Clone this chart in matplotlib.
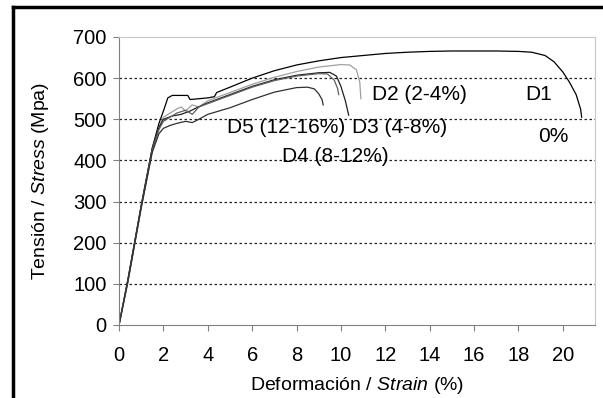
import matplotlib.pyplot as plt
from matplotlib.lines import Line2D

plt.rcParams['font.family'] = ['Liberation Sans', 'DejaVu Sans']
plt.rcParams['mathtext.fontset'] = 'custom'
plt.rcParams['mathtext.it'] = 'Liberation Sans:italic'
plt.rcParams['mathtext.rm'] = 'Liberation Sans'

# strain (%) / stress (MPa)
d1_strain = [0, 0.4, 1.0, 1.5, 1.8, 2.0, 2.2, 2.4, 2.8, 3.1, 3.2, 3.6, 4.0, 4.3, 4.4,
             5.0, 6.0, 7.0, 8.0, 9.0, 10.0, 11.0, 12.0, 13.0, 14.0, 15.0, 16.0, 17.0,
             18.0, 18.6, 19.2, 19.6, 20.0, 20.3, 20.6, 20.8, 20.85]
d1_stress = [0, 110, 290, 430, 490, 520, 552, 558, 558, 558, 548, 550, 552, 555, 565,
             578, 600, 618, 632, 642, 650, 655, 660, 663, 665, 666, 666, 666,
             665, 663, 655, 640, 615, 590, 560, 525, 505]

d2_strain = [0, 0.4, 1.0, 1.5, 1.8, 2.0, 2.3, 2.6, 2.8, 3.0, 3.3, 3.6, 4.0, 5.0, 6.0,
             7.0, 8.0, 9.0, 10.0, 10.4, 10.7, 10.85, 10.9]
d2_stress = [0, 105, 285, 425, 480, 505, 515, 525, 530, 520, 535, 530, 545, 565, 585,
             602, 616, 627, 633, 632, 620, 590, 550]

d3_strain = [0, 0.4, 1.0, 1.5, 1.8, 2.0, 2.4, 2.8, 3.2, 3.5, 4.0, 5.0, 6.0, 7.0, 8.0,
             9.0, 9.5, 9.8, 10.0, 10.2, 10.35]
d3_stress = [0, 110, 290, 430, 480, 500, 508, 512, 520, 528, 540, 560, 580, 596, 607,
             613, 614, 605, 580, 545, 510]

d4_strain = [0, 0.4, 1.0, 1.5, 1.8, 2.0, 2.3, 2.6, 3.0, 3.3, 3.6, 4.0, 5.0, 6.0, 7.0,
             8.0, 9.0, 9.4, 9.7, 9.85, 9.9]
d4_stress = [0, 105, 285, 425, 475, 495, 505, 515, 522, 512, 530, 538, 558, 578, 594,
             605, 611, 610, 595, 575, 560]

d5_strain = [0, 0.4, 1.0, 1.5, 1.8, 2.0, 2.3, 2.6, 3.0, 3.3, 3.6, 4.0, 5.0, 6.0, 7.0,
             8.0, 8.5, 8.8, 9.0, 9.15, 9.2]
d5_stress = [0, 105, 285, 420, 465, 478, 485, 490, 495, 492, 500, 512, 528, 548, 566,
             577, 578, 574, 562, 548, 535]

labels = ['D2 (2-4%)', 'D1', '0%', 'D3 (4-8%)', 'D5 (12-16%)', 'D4 (8-12%)']
label_x = [11.4, 18.3, 18.9, 10.5, 4.85, 7.35]
label_y = [560, 560, 457, 480, 480, 409]

fig = plt.figure(figsize=(6.03, 3.98), dpi=100)
ax = fig.add_axes([119 / 603, 1 - 325 / 398, 476 / 603, 288 / 398])

ax.plot(d1_strain, d1_stress, color='black', lw=0.9)
ax.plot(d2_strain, d2_stress, color='#a0a0a0', lw=0.9)
ax.plot(d3_strain, d3_stress, color='#202020', lw=0.9)
ax.plot(d4_strain, d4_stress, color='#606060', lw=0.9)
ax.plot(d5_strain, d5_stress, color='#303030', lw=0.9)

for t, x, y in zip(labels, label_x, label_y):
    ax.text(x, y, t, fontsize=15, va='center', ha='left')

ax.set_xlim(0, 21.45)
ax.set_ylim(0, 700)
ax.set_xticks(range(0, 21, 2))
ax.set_yticks(range(0, 701, 100))
ax.tick_params(labelsize=14.5, color='#808080', length=4)
ax.tick_params(axis='x', pad=11)
ax.tick_params(axis='y', pad=5)
for y in range(100, 700, 100):
    ax.axhline(y, color='#222222', lw=0.9, ls=(0, (2, 2)), zorder=0)

ax.spines['left'].set_color('#808080')
ax.spines['bottom'].set_color('#808080')
ax.spines['top'].set_color('#c8c8c8')
ax.spines['right'].set_color('#c8c8c8')

ax.set_xlabel('Deformación / $\\it{Strain}$ (%)', fontsize=14, labelpad=7)
ax.set_ylabel('Tensión / $\\it{Stress}$ (Mpa)', fontsize=14, labelpad=16)

bx = 13 / 603
by = 1 - 7 / 398
fig.add_artist(Line2D([bx, bx], [0, by], color='black', lw=2.5, transform=fig.transFigure))
fig.add_artist(Line2D([bx, 1], [by, by], color='black', lw=2.5, transform=fig.transFigure))

fig.savefig('out.png', dpi=100)
